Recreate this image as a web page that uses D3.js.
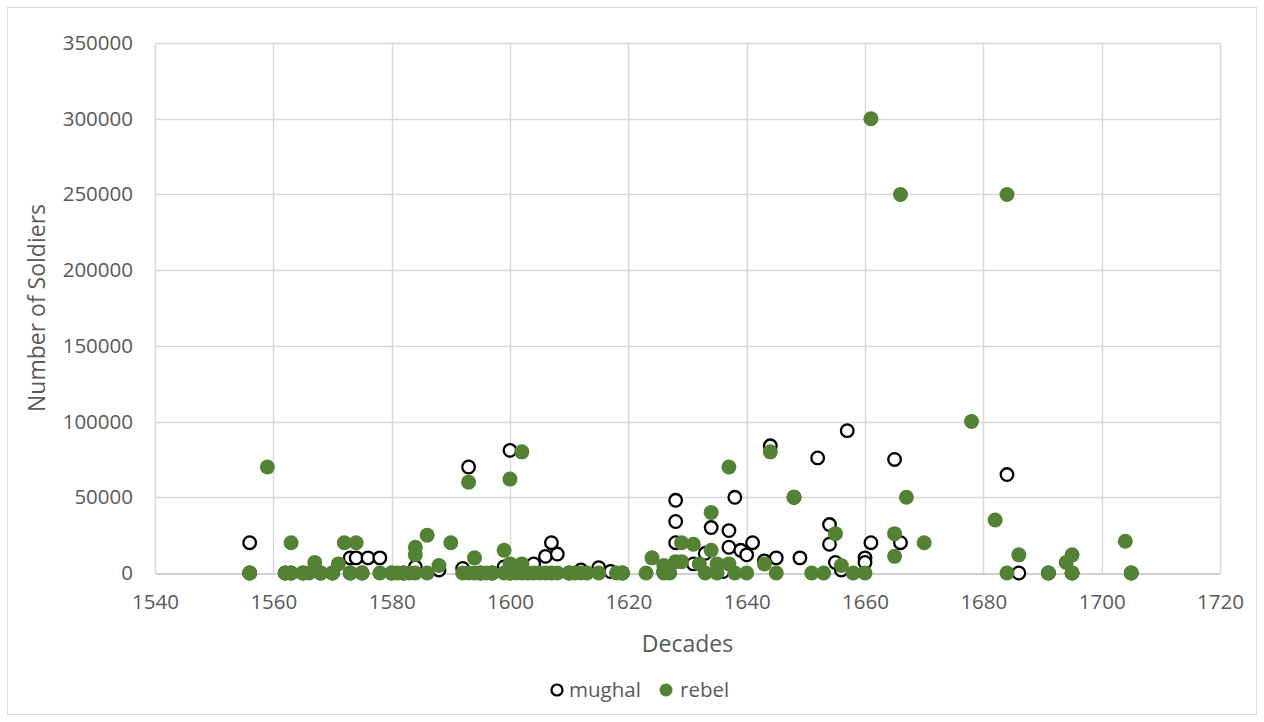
<!DOCTYPE html>
<html lang="en">
<head>
<meta charset="UTF-8">
<title>Mughal and rebel armies</title>
<style>
  html, body { margin: 0; padding: 0; background: #fff; }
  svg { display: block; font-family: "Open Sans", sans-serif; }
</style>
</head>
<body>
<script src="https://d3js.org/d3.v7.min.js"></script>
<script>
  // mughal army sizes, by year
  const mughalYears = [1556, 1556, 1562, 1563, 1565, 1568, 1570, 1573, 1574, 1576, 1578,
    1573, 1575, 1580, 1582, 1584, 1588, 1592, 1593, 1595, 1597, 1599, 1600, 1600,
    1604, 1606, 1607, 1608, 1610, 1612, 1615, 1617, 1619, 1626, 1628, 1628, 1628,
    1631, 1633, 1634, 1636, 1637, 1637, 1638, 1639, 1640, 1641, 1643, 1644, 1645,
    1648, 1649, 1652, 1654, 1654, 1655, 1656, 1657, 1660, 1660, 1661, 1665, 1666,
    1684, 1686, 1691, 1695, 1705];
  const mughalSoldiers = [20000, 0, 0, 0, 0, 0, 0, 10000, 10000, 10000, 10000,
    0, 0, 0, 0, 4000, 2000, 3000, 70000, 0, 0, 4000, 81000, 0,
    6000, 11000, 20000, 12500, 0, 2000, 3500, 1000, 0, 1000, 48000, 34000, 20000,
    6000, 13000, 30000, 1000, 28000, 17000, 50000, 15000, 12000, 20000, 8000, 84000, 10000,
    50000, 10000, 76000, 32000, 19000, 7000, 2000, 94000, 10000, 7000, 20000, 75000, 20000,
    65000, 0, 0, 0, 0];

  // rebel army sizes, by year
  const rebelYears = [1556, 1559, 1562, 1563, 1563, 1565, 1566, 1567, 1568, 1570, 1571,
    1572, 1574, 1573, 1575, 1578, 1580, 1581, 1582, 1583, 1584, 1584, 1584, 1586, 1586,
    1588, 1590, 1592, 1593, 1593, 1594, 1594, 1595, 1596, 1597, 1599, 1599,
    1600, 1600, 1600, 1601, 1602, 1602, 1602, 1603, 1604, 1605, 1606, 1607, 1608,
    1610, 1611, 1612, 1613, 1615, 1618, 1619, 1623, 1624, 1626, 1626, 1627, 1628,
    1629, 1629, 1631, 1632, 1633, 1634, 1634, 1635, 1635, 1637, 1637, 1638, 1640,
    1643, 1644, 1645, 1648, 1651, 1653, 1655, 1656, 1658, 1660, 1661, 1665, 1665,
    1666, 1667, 1670, 1678, 1682, 1684, 1684, 1686, 1691, 1694, 1695, 1695, 1704, 1705];
  const rebelSoldiers = [0, 70000, 0, 0, 20000, 0, 0, 7000, 0, 0, 6000,
    20000, 20000, 0, 0, 0, 0, 0, 0, 0, 0, 12000, 17000, 25000, 0,
    5000, 20000, 0, 60000, 0, 10000, 0, 0, 0, 0, 15000, 0,
    62000, 6000, 0, 0, 80000, 6000, 0, 0, 0, 0, 0, 0, 0,
    0, 0, 0, 0, 0, 0, 0, 0, 10000, 0, 5000, 0, 7500,
    7500, 20000, 19000, 6000, 0, 40000, 15000, 6000, 0, 70000, 6000, 0, 0,
    6000, 80000, 0, 50000, 0, 0, 26000, 5000, 0, 0, 300000, 26000, 11000,
    250000, 50000, 20000, 100000, 35000, 250000, 0, 12000, 0, 7000, 12000, 0, 21000, 0];

  const xTicks = d3.range(1540, 1721, 20);
  const yTicks = d3.range(0, 350001, 50000);

  const width = 1264, height = 722;
  const margin = { top: 43, right: 44, bottom: 149, left: 155 };
  const textColor = '#595959';
  const green = '#548235';

  const svg = d3.select('body').append('svg')
    .attr('width', width)
    .attr('height', height);

  // outer chart frame
  svg.append('rect')
    .attr('x', 7.5).attr('y', 7.5)
    .attr('width', 1249).attr('height', 707)
    .attr('fill', '#fff')
    .attr('stroke', '#d9d9d9');

  const x = d3.scaleLinear()
    .domain([1540, 1720])
    .range([margin.left, width - margin.right]);
  const y = d3.scaleLinear()
    .domain([0, 350000])
    .range([height - margin.bottom, margin.top]);

  // gridlines
  svg.append('g')
    .selectAll('line.h')
    .data(yTicks.slice(1))
    .join('line')
    .attr('x1', x(1540)).attr('x2', x(1720))
    .attr('y1', d => Math.round(y(d)) + 0.5).attr('y2', d => Math.round(y(d)) + 0.5)
    .attr('stroke', '#d9d9d9').attr('stroke-width', 1.5);
  svg.append('g')
    .selectAll('line.v')
    .data(xTicks)
    .join('line')
    .attr('x1', d => Math.round(x(d)) + 0.5).attr('x2', d => Math.round(x(d)) + 0.5)
    .attr('y1', y(350000)).attr('y2', y(0))
    .attr('stroke', '#d9d9d9').attr('stroke-width', 1.5);

  // axes, drawn from d3 axis generators and restyled
  const xAxis = svg.append('g')
    .attr('transform', `translate(0,${Math.round(y(0)) + 0.5})`)
    .call(d3.axisBottom(x).tickValues(xTicks).tickFormat(d3.format('d')).tickSize(0).tickPadding(21));
  xAxis.select('.domain').attr('stroke', '#bfbfbf').attr('stroke-width', 1.5);

  const yAxis = svg.append('g')
    .attr('transform', `translate(${margin.left},0)`)
    .call(d3.axisLeft(y).tickValues(yTicks).tickFormat(d3.format('d')).tickSize(0).tickPadding(22));
  yAxis.select('.domain').remove();

  svg.selectAll('.tick text')
    .attr('fill', textColor)
    .style('font-size', '20.5px')
    .style('font-family', '"Open Sans", sans-serif');

  // axis titles
  svg.append('text')
    .attr('x', (x(1540) + x(1720)) / 2)
    .attr('y', 652)
    .attr('text-anchor', 'middle')
    .attr('fill', textColor)
    .style('font-size', '23px')
    .text('Decades');

  svg.append('text')
    .attr('transform', `translate(45,${(y(0) + y(350000)) / 2}) rotate(-90)`)
    .attr('text-anchor', 'middle')
    .attr('fill', textColor)
    .style('font-size', '23px')
    .text('Number of Soldiers');

  // points
  const mughal = mughalYears.map((yr, i) => ({ year: yr, n: mughalSoldiers[i] }));
  const rebel = rebelYears.map((yr, i) => ({ year: yr, n: rebelSoldiers[i] }));

  svg.append('g')
    .selectAll('circle')
    .data(mughal)
    .join('circle')
    .attr('cx', d => x(d.year))
    .attr('cy', d => y(d.n))
    .attr('r', 6.3)
    .attr('fill', '#fff')
    .attr('stroke', '#000')
    .attr('stroke-width', 2.3);

  svg.append('g')
    .selectAll('circle')
    .data(rebel)
    .join('circle')
    .attr('cx', d => x(d.year))
    .attr('cy', d => y(d.n))
    .attr('r', 7.5)
    .attr('fill', green);

  // legend
  const legend = svg.append('g').attr('transform', 'translate(0,690)');
  legend.append('circle')
    .attr('cx', 557).attr('cy', 0).attr('r', 5.5)
    .attr('fill', '#fff').attr('stroke', '#000').attr('stroke-width', 2.2);
  legend.append('text')
    .attr('x', 569).attr('y', 0).attr('dy', '0.35em')
    .attr('fill', textColor).style('font-size', '20.5px')
    .text('mughal');
  legend.append('circle')
    .attr('cx', 666).attr('cy', 0).attr('r', 6.5)
    .attr('fill', green);
  legend.append('text')
    .attr('x', 680).attr('y', 0).attr('dy', '0.35em')
    .attr('fill', textColor).style('font-size', '20.5px')
    .text('rebel');
</script>
</body>
</html>
